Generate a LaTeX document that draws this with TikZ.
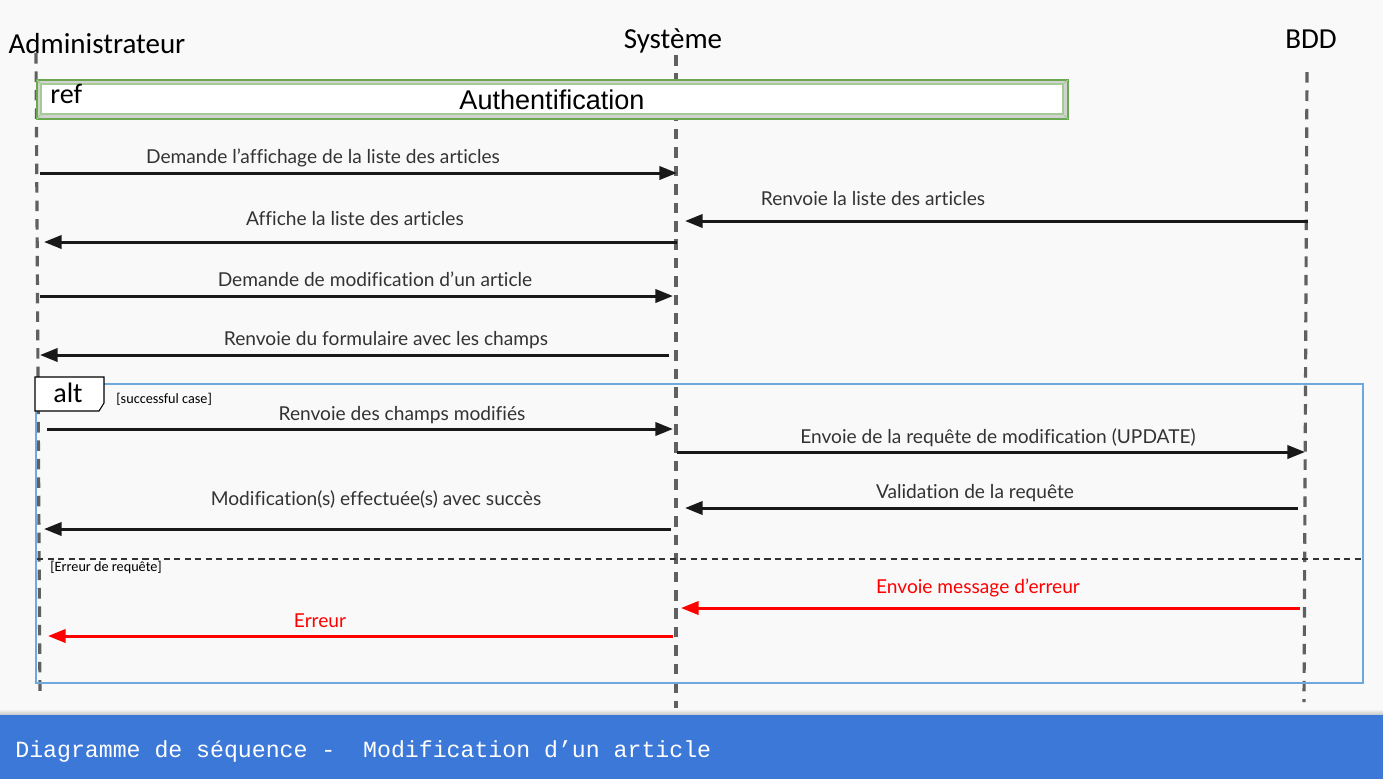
\documentclass[tikz,border=0pt]{standalone}
\usepackage{fontspec}
\setmainfont{Lato}[Ligatures=NoCommon]
\newfontfamily\calibri{Carlito}
\newfontfamily\arial{Liberation Sans}
\setmonofont{Liberation Mono}
\usetikzlibrary{arrows.meta, positioning, calc}

\definecolor{bgcol}{HTML}{F9F9F9}
\definecolor{bannerblue}{HTML}{3C78D8}
\definecolor{altblue}{HTML}{6FA8DC}
\definecolor{refgreen}{HTML}{6AA84F}
\definecolor{lifegray}{HTML}{606060}
\definecolor{txtgray}{HTML}{333333}

\tikzset{
  actor/.style={font=\calibri\fontsize{16.5}{18}\selectfont, anchor=base, inner sep=0pt},
  lifeline/.style={draw=lifegray, line width=1.8pt, dash pattern=on 6pt off 4.5pt},
  msg/.style={-{Triangle[length=10pt,width=7.5pt]}, line width=1.7pt, draw=black!90},
  errmsg/.style={msg, draw=red},
  lbl/.style={font=\fontsize{10.9}{13}\selectfont, text=txtgray, anchor=base, inner sep=0pt},
  guard/.style={font=\calibri\fontsize{8.1}{9.5}\selectfont, anchor=base west, inner sep=0pt},
}

\begin{document}
\begin{tikzpicture}[x=0.02cm, y=-0.02cm]
  \fill[bgcol] (0,0) rectangle (1383,779);
  \useasboundingbox (0,0) rectangle (1383,779);

  \node[actor] (adm) at (97,53) {Administrateur};
  \node[actor] (sys) at (673,48) {Système};
  \node[actor] (bdd) at (1311,48) {BDD};

  \coordinate (admtop) at (36,53);
  \coordinate (admbot) at (40,697);
  \coordinate (systop) at (676,55);
  \coordinate (sysbot) at (676,708);
  \coordinate (bddtop) at (1307,72);
  \coordinate (bddbot) at (1304,702);
  \draw[lifeline] (admtop) -- (admbot);
  \draw[lifeline] (systop) -- (sysbot);
  \draw[lifeline] (bddtop) -- (bddbot);

  % ref frame
  \draw[refgreen, fill=gray!35, line width=0.9pt] (37,80) rectangle (1068,119);
  \draw[refgreen!60, fill=white, line width=0.8pt] (41,84) rectangle (1063,114);
  \draw[refgreen!60, line width=0.6pt] (37,80) -- (41,84) (1068,80) -- (1063,84)
    (37,119) -- (41,114) (1068,119) -- (1063,114);
  \node[font=\calibri\fontsize{16}{18}\selectfont, anchor=base west, inner sep=0pt] (reflbl) at (50,103) {ref};
  \node[font=\arial\fontsize{15.4}{18}\selectfont, anchor=base, inner sep=0pt] (auth) at (552,109) {Authentification};

  \coordinate (m1a) at (40,173);   \coordinate (m1b) at (677,173);
  \coordinate (m2a) at (1308,221); \coordinate (m2b) at (685,221);
  \coordinate (m3a) at (677,242);  \coordinate (m3b) at (44,242);
  \coordinate (m4a) at (40,296);   \coordinate (m4b) at (673,296);
  \coordinate (m5a) at (669,355);  \coordinate (m5b) at (40,355);
  \coordinate (m6a) at (47,429);   \coordinate (m6b) at (673,429);
  \coordinate (m7a) at (677,452);  \coordinate (m7b) at (1305,452);
  \coordinate (m8a) at (1298,508); \coordinate (m8b) at (685,508);
  \coordinate (m9a) at (671,529);  \coordinate (m9b) at (44,529);
  \coordinate (e1a) at (1300,608); \coordinate (e1b) at (681,608);
  \coordinate (e2a) at (673,636);  \coordinate (e2b) at (48,636);

  \node[lbl] (l1) at (323,163) {Demande l’affichage de la liste des articles};
  \node[lbl] (l2) at (873,205) {Renvoie la liste des articles};
  \node[lbl] (l3) at (355,225) {Affiche la liste des articles};
  \node[lbl] (l4) at (375,286) {Demande de modification d’un article};
  \node[lbl] (l5) at (386,345) {Renvoie du formulaire avec les champs};
  \node[lbl] (l6) at (402,420) {Renvoie des champs modifiés};
  \node[lbl] (l7) at (998,443) {Envoie de la requête de modification (UPDATE)};
  \node[lbl] (l8) at (975,498) {Validation de la requête};
  \node[lbl] (l9) at (376,505) {Modification(s) effectuée(s) avec succès};
  \node[lbl, text=red] (le1) at (978,593) {Envoie message d’erreur};
  \node[lbl, text=red] (le2) at (320,627) {Erreur};

  \draw[msg] (m1a) -- (m1b);
  \draw[msg] (m2a) -- (m2b);
  \draw[msg] (m3a) -- (m3b);
  \draw[msg] (m4a) -- (m4b);
  \draw[msg] (m5a) -- (m5b);
  \draw[msg] (m6a) -- (m6b);
  \draw[msg] (m7a) -- (m7b);
  \draw[msg] (m8a) -- (m8b);
  \draw[msg] (m9a) -- (m9b);
  \draw[errmsg] (e1a) -- (e1b);
  \draw[errmsg] (e2a) -- (e2b);

  % alt fragment
  \draw[altblue, line width=1.6pt] (36,384) rectangle (1363,683);
  \draw[black, fill=white, line width=0.6pt] (35,377) -- (104,377) -- (104,403)
    -- (99,411) -- (35,411) -- cycle;
  \node[font=\calibri\fontsize{16}{18}\selectfont, anchor=base, inner sep=0pt] (alt) at (68,402) {alt};
  \node[guard] (okcase) at (116,403) {[successful case]};
  \draw[black!80, line width=0.7pt, dash pattern=on 3.5pt off 2.5pt] (37,559) -- (1363,559);
  \node[guard] (errcase) at (50,571) {[Erreur de requête]};

  \shade[top color=bgcol, bottom color=gray!45] (0,709) rectangle (1383,715);
  \fill[bannerblue] (0,715) rectangle (1383,779);
  \node[font=\ttfamily\fontsize{13.2}{15}\selectfont, text=white, anchor=base west, inner sep=0pt] (title)
    at (15,757) {Diagramme de séquence -\ \ Modification d’un article};
\end{tikzpicture}
\end{document}
